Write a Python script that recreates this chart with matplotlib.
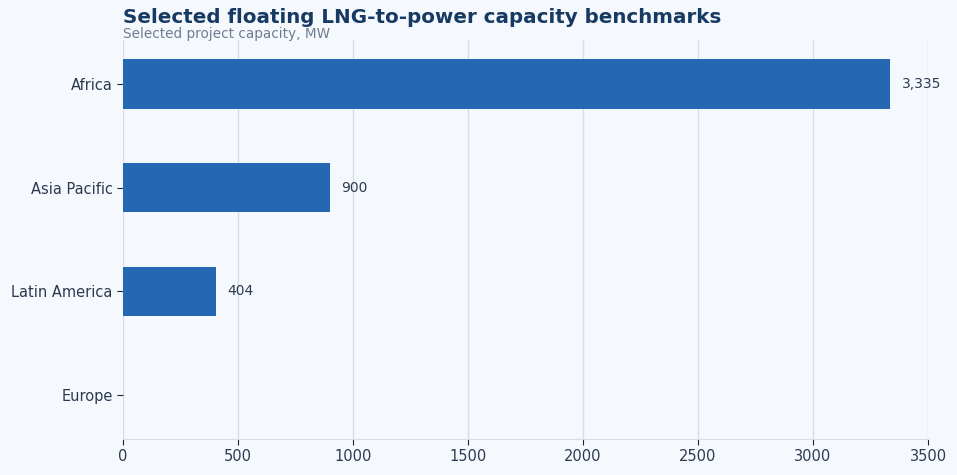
import numpy as np
import matplotlib.pyplot as plt

# data
# ----
regions = ['Africa', 'Asia Pacific', 'Latin America', 'Europe']
capacity_mw = [3335, 900, 404, 0]
x_ticks = [0, 500, 1000, 1500, 2000, 2500, 3000, 3500]

bg = '#f5f9fd'
bar_color = '#2467b3'
text_color = '#2d3a4f'
grid_color = '#d5dde8'

fig = plt.figure(figsize=(9.57, 4.75), dpi=100, facecolor=bg)
ax = fig.add_axes([0.1285, 0.0758, 0.8412, 0.84])
ax.set_facecolor(bg)

y = np.arange(len(regions))
ax.barh(y, capacity_mw, height=0.48, color=bar_color, zorder=3)

for yi, v in zip(y, capacity_mw):
    if v > 0:
        ax.text(v + 50, yi, f'{v:,}', va='center', ha='left', fontsize=10, color=text_color)

ax.set_yticks(y)
ax.set_yticklabels(regions)
ax.set_ylim(3.42, -0.42)
ax.set_xlim(0, 3500)
ax.set_xticks(x_ticks)

ax.grid(axis='x', color=grid_color, linewidth=1, zorder=0)
for s in ['top', 'right', 'left']:
    ax.spines[s].set_visible(False)
ax.spines['bottom'].set_color(grid_color)
ax.tick_params(axis='both', colors='#1a2433', labelcolor=text_color, labelsize=10.5, length=4)

fig.text(0.1285, 0.943, 'Selected floating LNG-to-power capacity benchmarks', fontsize=14.3,
         fontweight='bold', color='#173a63', ha='left', va='bottom')
fig.text(0.1285, 0.913, 'Selected project capacity, MW', fontsize=9.8, color='#6f7d90',
         ha='left', va='bottom')

fig.savefig('out.png', dpi=100, facecolor=bg)
